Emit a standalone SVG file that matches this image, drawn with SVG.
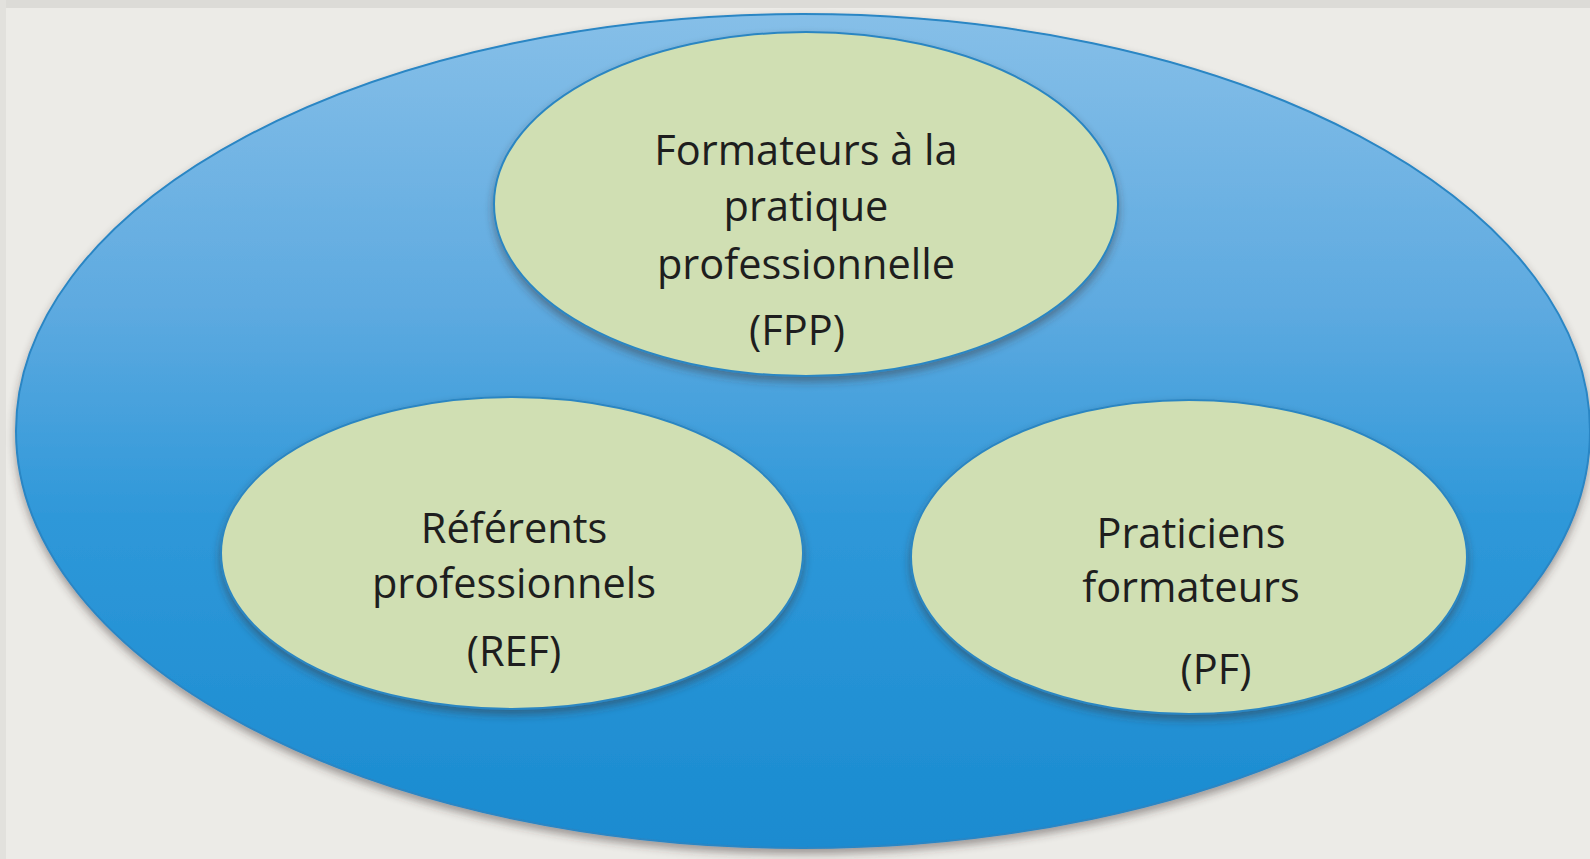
<svg xmlns="http://www.w3.org/2000/svg" width="1590" height="859" viewBox="0 0 1590 859">
<defs>
<linearGradient id="bigGrad" x1="0" y1="0" x2="0" y2="1">
<stop offset="0" stop-color="#86bfe8"/>
<stop offset="0.35" stop-color="#5eaae0"/>
<stop offset="0.6" stop-color="#2f98d9"/>
<stop offset="1" stop-color="#1a8bd0"/>
</linearGradient>
<filter id="shadow" x="-10%" y="-10%" width="120%" height="125%">
<feGaussianBlur in="SourceAlpha" stdDeviation="4"/>
<feOffset dx="0" dy="5" result="b"/>
<feFlood flood-color="#3a3030" flood-opacity="0.45"/>
<feComposite in2="b" operator="in"/>
<feMerge><feMergeNode/><feMergeNode in="SourceGraphic"/></feMerge>
</filter>
</defs>
<style>
.inner{fill:#d0dfb3;stroke:#2b86c2;stroke-width:2}
.lbl{font-family:"Open Sans","Noto Sans","Liberation Sans",sans-serif;font-size:41.5px;fill:#1e1e1e;text-anchor:middle}
</style>
<rect x="0" y="0" width="1590" height="859" fill="#ecebe7"/>
<rect x="0" y="0" width="1590" height="8" fill="#dcdbd7"/>
<rect x="0" y="0" width="6" height="859" fill="#e2e1dd"/>
<g id="outer">
<ellipse cx="803" cy="431" rx="787" ry="417" fill="url(#bigGrad)" stroke="#2a86c4" stroke-width="2" filter="url(#shadow)"/>
</g>
<g id="connectors"></g>
<g id="fpp">
<ellipse class="inner" cx="806" cy="204" rx="312" ry="172" filter="url(#shadow)"/>
<text class="lbl" x="806" y="165">Formateurs à la</text>
<text class="lbl" x="806" y="221">pratique</text>
<text class="lbl" x="806" y="279">professionnelle</text>
<text class="lbl" x="797" y="345">(FPP)</text>
</g>
<g id="ref">
<ellipse class="inner" cx="512" cy="553" rx="291" ry="156" filter="url(#shadow)"/>
<text class="lbl" x="514" y="543">Référents</text>
<text class="lbl" x="514" y="598">professionnels</text>
<text class="lbl" x="514" y="666">(REF)</text>
</g>
<g id="pf">
<ellipse class="inner" cx="1189" cy="557" rx="278" ry="157" filter="url(#shadow)"/>
<text class="lbl" x="1191" y="548">Praticiens</text>
<text class="lbl" x="1191" y="602">formateurs</text>
<text class="lbl" x="1216" y="684">(PF)</text>
</g>
</svg>
